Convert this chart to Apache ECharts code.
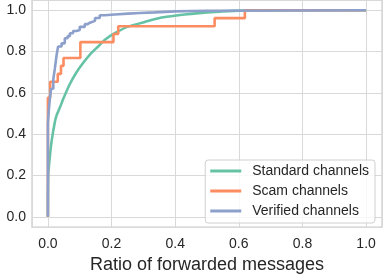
<!DOCTYPE html>
<html>
<head>
<meta charset="utf-8">
<script src="https://cdn.jsdelivr.net/npm/echarts@6/dist/echarts.min.js"></script>
<style>
  html, body { margin: 0; padding: 0; background: #fff; }
  #chart { width: 383px; height: 279px; }
</style>
</head>
<body>
<div id="chart"></div>
<script>
// CDF of forwarded-message ratio
const tickValues = [0, 0.2, 0.4, 0.6, 0.8, 1.0]

const standardX = [0, 0.001, 0.006, 0.012, 0.022, 0.027, 0.038, 0.048, 0.069, 0.09, 0.111, 0.132, 0.158, 0.179, 0.21, 0.252, 0.305, 0.357, 0.409, 0.45, 0.5, 0.55, 0.62, 0.7, 1.0]
const standardY = [0, 0.2, 0.29, 0.37, 0.46, 0.49, 0.53, 0.57, 0.643, 0.70, 0.746, 0.786, 0.825, 0.857, 0.889, 0.921, 0.944, 0.965, 0.976, 0.983, 0.99, 0.995, 0.999, 1.0, 1.0]

const scamX = [0, 0, 0.007, 0.031, 0.041, 0.049, 0.102, 0.206, 0.221, 0.524, 0.619, 1.0]
const scamY = [0, 0.577, 0.654, 0.692, 0.731, 0.769, 0.846, 0.885, 0.923, 0.962, 1.0, 1.0]

const verifiedX = [0, 0, 0.003, 0.006, 0.01, 0.017, 0.022, 0.027, 0.032, 0.043, 0.053, 0.062, 0.069, 0.079, 0.09, 0.10, 0.116, 0.125, 0.132, 0.148, 0.163, 0.179, 0.21, 0.252, 0.29, 0.336, 0.4, 0.5, 1.0]
const verifiedY = [0, 0.45, 0.52, 0.57, 0.62, 0.667, 0.72, 0.78, 0.825, 0.84, 0.865, 0.875, 0.889, 0.90, 0.905, 0.92, 0.933, 0.94, 0.949, 0.963, 0.976, 0.98, 0.984, 0.987, 0.99, 0.995, 0.998, 1.0, 1.0]

const pairs = (xs, ys) => xs.map((x, i) => [x, ys[i]])
const tickLabel = v => tickValues.some(t => Math.abs(t - v) < 1e-9) ? v.toFixed(1) : ''

const chart = echarts.init(document.getElementById('chart'))
const axisCommon = {
  type: 'value',
  min: -0.05,
  max: 1.05,
  splitNumber: 5,
  axisLine: { show: false },
  axisTick: { show: false },
  splitLine: { show: true, lineStyle: { color: '#d9d9d9', width: 1 } },
  axisLabel: {
    formatter: tickLabel,
    showMinLabel: false,
    showMaxLabel: false,
    color: '#262626',
    fontSize: 14,
    fontFamily: 'Liberation Sans'
  }
}

chart.setOption({
  animation: false,
  color: ['#66c2a5', '#fc8d62', '#8da0cb'],
  grid: {
    left: 32, right: 1, top: 0, bottom: 49,
    show: true,
    borderColor: '#cccccc',
    borderWidth: 1.25
  },
  xAxis: Object.assign({}, axisCommon, {
    name: 'Ratio of forwarded messages',
    nameLocation: 'middle',
    nameGap: 28,
    nameTextStyle: { color: '#262626', fontSize: 18, fontFamily: 'Liberation Sans' },
    axisLabel: Object.assign({}, axisCommon.axisLabel, { margin: 10 })
  }),
  yAxis: Object.assign({}, axisCommon, {
    axisLabel: Object.assign({}, axisCommon.axisLabel, { margin: 6 })
  }),
  legend: {
    orient: 'vertical',
    right: 8,
    bottom: 56,
    icon: 'rect',
    itemWidth: 31,
    itemHeight: 3,
    itemGap: 6,
    padding: [4, 6, 5, 5],
    backgroundColor: 'rgba(255,255,255,0.8)',
    borderColor: '#d0d0d0',
    borderWidth: 1,
    borderRadius: 3,
    textStyle: {
      color: '#262626',
      fontSize: 14,
      lineHeight: 14,
      fontFamily: 'Liberation Sans',
      padding: [0, 0, 0, 6]
    },
    data: ['Standard channels', 'Scam channels', 'Verified channels']
  },
  series: [
    {
      name: 'Standard channels',
      type: 'line',
      showSymbol: false,
      smooth: 0.2,
      lineStyle: { width: 2.6 },
      data: pairs(standardX, standardY)
    },
    {
      name: 'Scam channels',
      type: 'line',
      showSymbol: false,
      step: 'end',
      lineStyle: { width: 2.6 },
      data: pairs(scamX, scamY)
    },
    {
      name: 'Verified channels',
      type: 'line',
      showSymbol: false,
      step: 'end',
      lineStyle: { width: 2.6 },
      data: pairs(verifiedX, verifiedY)
    }
  ]
})
</script>
</body>
</html>
